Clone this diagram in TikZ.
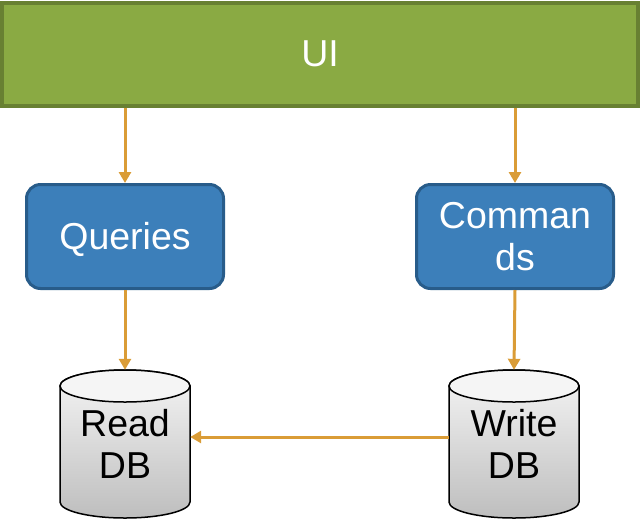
\documentclass[tikz,border=0pt]{standalone}
\usepackage{fontspec}
\setmainfont{Liberation Sans}
\usetikzlibrary{arrows.meta}
\definecolor{uifill}{RGB}{138,170,67}
\definecolor{uiborder}{RGB}{104,128,50}
\definecolor{bfill}{RGB}{60,127,186}
\definecolor{bborder}{RGB}{40,92,138}
\definecolor{arrcol}{RGB}{218,156,54}
\definecolor{cyltop}{RGB}{245,245,245}
\definecolor{cylbot}{RGB}{190,190,190}
\tikzset{
  big/.style={font=\fontsize{37.5}{42}\selectfont},
  bluebox/.style={big, text=white, fill=bfill, draw=bborder, line width=3pt, rounded corners=14pt,
    minimum width=197pt, minimum height=104pt, inner sep=0pt, align=center},
  cylnode/.style={big, text=black, minimum width=130pt, minimum height=148pt, inner sep=0pt, align=center},
  arr/.style={draw=arrcol, line width=3pt, -{Triangle[length=11pt,width=12pt]}},
}
\begin{document}
\begin{tikzpicture}[x=1pt,y=-1pt]
\useasboundingbox (0,0) rectangle (640,523);
% UI bar
\node[big, text=white, fill=uifill, draw=uiborder, line width=4pt, minimum width=636pt, minimum height=103pt, inner sep=0pt]
  (ui) at (320,54) {UI};
% blue boxes
\node[bluebox] (q) at (125,236.5) {\raisebox{-3pt}[\height][\depth]{Queries}};
\node[bluebox] (c) at (515,236.5) {Comman\\ds};
% cylinders
\newcommand{\mycyl}[1]{%
  \shade[top color=cyltop, bottom color=cylbot, draw=black, line width=1.5pt]
    (#1-65,386) -- (#1-65,502) arc[start angle=180,end angle=0,x radius=65,y radius=16]
    -- (#1+65,386) arc[start angle=0,end angle=-180,x radius=65,y radius=16] -- cycle;
  \draw[line width=1.5pt, fill=cyltop] (#1,386) ellipse[x radius=65,y radius=16];
}
\mycyl{125}
\mycyl{514}
\node[cylnode] (rdb) at (125,444) {Read\\DB};
\node[cylnode] (wdb) at (514,444) {Write\\DB};
% connectors
\draw[arr] (q.north |- ui.south) -- (q.north);
\draw[arr] (c.north |- ui.south) -- (c.north);
\draw[arr] (q.south) -- (rdb.north);
\draw[arr] (c.south) -- (wdb.north);
\draw[arr] ([yshift=7pt]wdb.west) -- ([yshift=7pt]rdb.east);
\end{tikzpicture}
\end{document}
